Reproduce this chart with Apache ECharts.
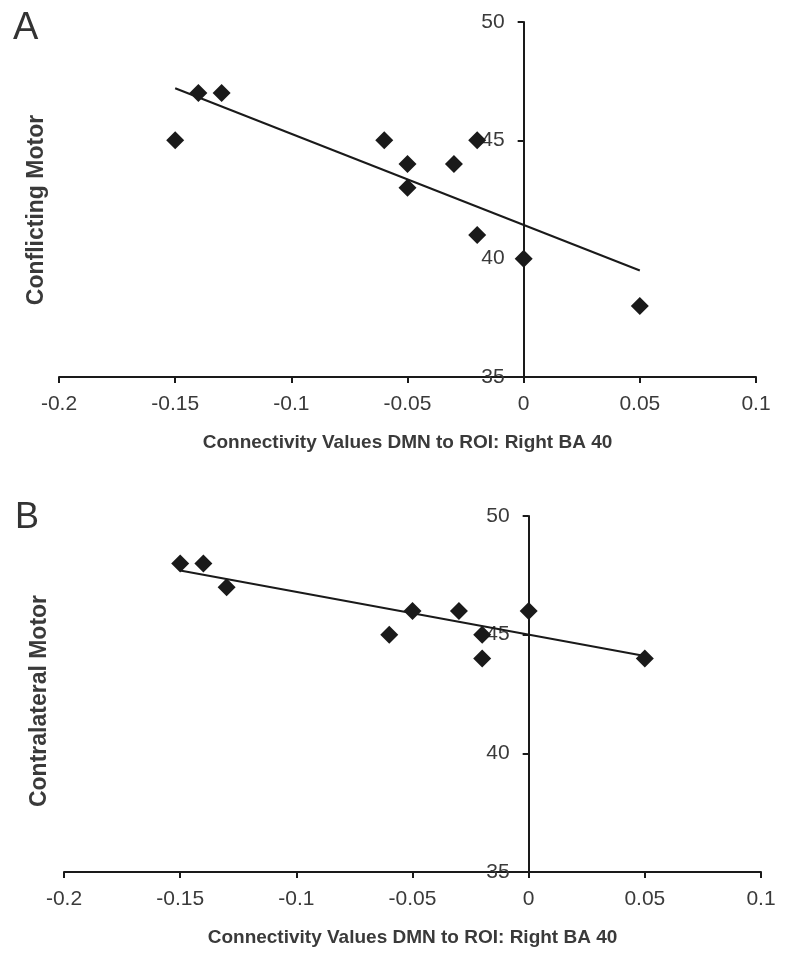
<!DOCTYPE html>
<html>
<head>
<meta charset="utf-8">
<script src="https://cdn.jsdelivr.net/npm/echarts@6/dist/echarts.min.js"></script>
<style>
  html, body { margin: 0; background: #ffffff; }
  #chart { width: 785px; height: 959px; }
</style>
</head>
<body>
<div id="chart"></div>
<script>
// panel A: conflicting motor vs connectivity
const conflictX = [-0.15, -0.14, -0.13, -0.06, -0.05, -0.05, -0.03, -0.02, -0.02, 0, 0.05];
const conflictY = [45, 47, 47, 45, 44, 43, 44, 45, 41, 40, 38];
const conflictFitX = [-0.15, 0.05];
const conflictFitY = [47.2, 39.5];

// panel B: contralateral motor vs connectivity
const contraX = [-0.15, -0.14, -0.13, -0.06, -0.05, -0.03, -0.02, -0.02, 0, 0.05];
const contraY = [48, 48, 47, 45, 46, 46, 45, 44, 46, 44];
const contraFitX = [-0.15, 0.05];
const contraFitY = [47.7, 44.1];

const panelLetters = ["A", "B"];
const yTitles = ["Conflicting Motor", "Contralateral Motor"];
const xTitle = "Connectivity Values DMN to ROI: Right BA 40";

const X_MIN = -0.2;
const X_MAX = 0.1;
const INK = "#1a1a1a";
const TEXT = "#3a3a3a";

const grids = [
  { left: 59, right: 29, top: 22, height: 355 },
  { left: 64, right: 24, top: 516, height: 356 },
];

function zip(xs, ys) {
  return xs.map((x, i) => [x, ys[i]]);
}

function xAxisFor(gridIndex) {
  return {
    type: "value",
    gridIndex,
    min: X_MIN,
    max: X_MAX,
    interval: 0.05,
    name: xTitle,
    nameLocation: "middle",
    nameGap: 56,
    nameTextStyle: {
      color: TEXT,
      fontFamily: "Liberation Sans, Arial",
      fontWeight: "bold",
      fontSize: 19,
    },
    axisLine: { onZero: false, lineStyle: { color: INK, width: 2 } },
    axisTick: { show: true, length: 6, lineStyle: { color: INK, width: 2 } },
    axisLabel: {
      color: TEXT,
      fontFamily: "Liberation Sans, Arial",
      fontSize: 21,
      margin: 17,
    },
    splitLine: { show: false },
  };
}

// the y axis crosses at x = 0, so shift it right from the grid's left edge
function yAxisFor(gridIndex) {
  const g = grids[gridIndex];
  const width = 785 - g.left - g.right;
  const shift = (width * (0 - X_MIN)) / (X_MAX - X_MIN);
  return {
    type: "value",
    gridIndex,
    min: 35,
    max: 50,
    interval: 5,
    offset: -shift,
    axisLine: { onZero: false, lineStyle: { color: INK, width: 2 } },
    axisTick: { show: true, length: 6, lineStyle: { color: INK, width: 2 } },
    axisLabel: {
      color: TEXT,
      fontFamily: "Liberation Sans, Arial",
      fontSize: 21,
      margin: 19,
    },
    splitLine: { show: false },
  };
}

function scatterFor(idx, data) {
  return {
    type: "scatter",
    xAxisIndex: idx,
    yAxisIndex: idx,
    symbol: "diamond",
    symbolSize: 18,
    itemStyle: { color: INK, opacity: 1 },
    data,
    z: 3,
  };
}

function fitFor(idx, data) {
  return {
    type: "line",
    xAxisIndex: idx,
    yAxisIndex: idx,
    showSymbol: false,
    lineStyle: { color: INK, width: 2 },
    data,
    z: 2,
  };
}

const chart = echarts.init(document.getElementById("chart"));
chart.setOption({
  backgroundColor: "#ffffff",
  animation: false,
  grid: grids.map((g) => ({ ...g, containLabel: false, outerBoundsMode: "none" })),
  xAxis: [xAxisFor(0), xAxisFor(1)],
  yAxis: [yAxisFor(0), yAxisFor(1)],
  graphic: [
    {
      type: "text",
      x: 13,
      y: 29,
      style: { text: panelLetters[0], font: "38px Liberation Sans, Arial", fill: "#333", verticalAlign: "middle" },
    },
    {
      type: "text",
      x: 15,
      y: 518,
      style: { text: panelLetters[1], font: "36px Liberation Sans, Arial", fill: "#333", verticalAlign: "middle" },
    },
    {
      type: "text",
      x: 37,
      y: 210,
      rotation: Math.PI / 2,
      style: {
        text: yTitles[0],
        font: "bold 23px Liberation Sans, Arial",
        fill: TEXT,
        align: "center",
        verticalAlign: "middle",
      },
    },
    {
      type: "text",
      x: 40,
      y: 701,
      rotation: Math.PI / 2,
      style: {
        text: yTitles[1],
        font: "bold 23px Liberation Sans, Arial",
        fill: TEXT,
        align: "center",
        verticalAlign: "middle",
      },
    },
  ],
  series: [
    fitFor(0, zip(conflictFitX, conflictFitY)),
    scatterFor(0, zip(conflictX, conflictY)),
    fitFor(1, zip(contraFitX, contraFitY)),
    scatterFor(1, zip(contraX, contraY)),
  ],
});
</script>
</body>
</html>
